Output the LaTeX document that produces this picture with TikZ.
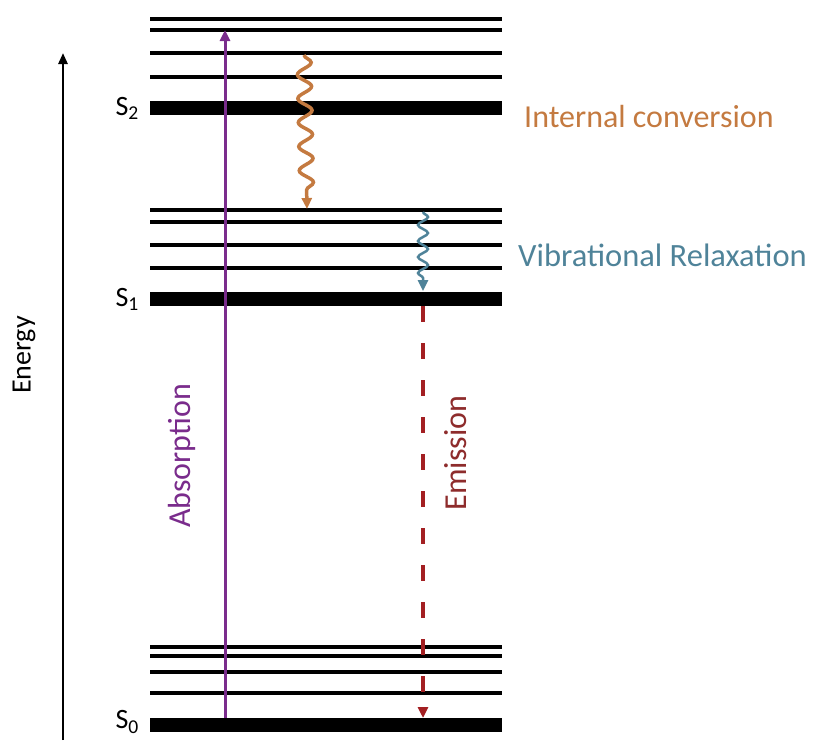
\documentclass[tikz,border=0pt]{standalone}
\usepackage{fontspec}
\setmainfont{Carlito}
\usetikzlibrary{arrows.meta,decorations.pathmorphing}
\definecolor{abscol}{HTML}{7A2C8C}
\definecolor{iccol}{HTML}{C47A40}
\definecolor{vrcol}{HTML}{4F8399}
\definecolor{emcol}{HTML}{A31F22}
\definecolor{emtext}{HTML}{8E2C2C}
\tikzset{
  vib/.style={line width=3.5pt, black},
  ground/.style={line width=14pt, black},
  lbl/.style={font=\fontsize{32}{36}\selectfont, inner sep=0pt},
  slbl/.style={font=\fontsize{28}{30}\selectfont, inner sep=0pt, anchor=east},
  tip/.style={-{Triangle[length=11pt,width=10pt]}},
}
\begin{document}
\begin{tikzpicture}[x=1pt,y=-1pt]
\useasboundingbox (0,0) rectangle (814,740);
% energy levels: S2
\foreach \y in {19,30,53,77} \draw[vib] (150,\y) -- (502,\y);
\draw[ground] (150,107.5) -- (502,107.5);
% S1
\foreach \y in {210,222,245,268} \draw[vib] (150,\y) -- (502,\y);
\draw[ground] (150,298.5) -- (502,298.5);
% S0
\foreach \y in {647,656,672,693} \draw[vib] (150,\y) -- (502,\y);
\draw[ground] (150,725) -- (502,725);
% state labels
\node[slbl] (s2) at (139,108) {S\textsubscript{2}};
\node[slbl] (s1) at (139,299) {S\textsubscript{1}};
\node[slbl] (s0) at (139,722) {S\textsubscript{0}};
% energy axis
\coordinate (ebot) at (63,740);
\coordinate (etop) at (63,53);
\draw[line width=2.5pt, -{Triangle[length=11pt,width=9pt]}] (ebot) -- (etop);
\node[lbl, rotate=90, font=\fontsize{28}{32}\selectfont] (energy) at (24,355) {Energy};
% absorption
\coordinate (a0) at (225,718);
\coordinate (a1) at (225,30);
\draw[abscol, line width=3pt, tip] (a0) -- (a1);
\node[lbl, rotate=90, text=abscol] (abs) at (182,456) {Absorption};
% internal conversion
\coordinate (ic0) at (304,55);
\coordinate (ic1) at (307,209);
\draw[iccol, line width=3.5pt, tip,
  decorate, decoration={snake, amplitude=7pt, segment length=24pt, post length=8pt}] (ic0) -- (ic1);
\node[lbl, text=iccol, anchor=west] (ictext) at (524,117) {Internal conversion};
% vibrational relaxation
\coordinate (vr0) at (423,212);
\coordinate (vr1) at (423,291);
\draw[vrcol, line width=2.5pt, tip,
  decorate, decoration={snake, amplitude=5pt, segment length=16pt, post length=8pt}] (vr0) -- (vr1);
\node[lbl, text=vrcol, anchor=west, font=\fontsize{32.5}{36}\selectfont] (vrtext) at (518,255) {Vibrational Relaxation};
% emission
\coordinate (em0) at (423,306);
\coordinate (em1) at (423,718);
\draw[emcol, line width=3.5pt, dash pattern=on 16pt off 21pt, tip] (em0) -- (em1);
\node[lbl, rotate=90, text=emtext] (emtx) at (456,453) {Emission};
\end{tikzpicture}
\end{document}
